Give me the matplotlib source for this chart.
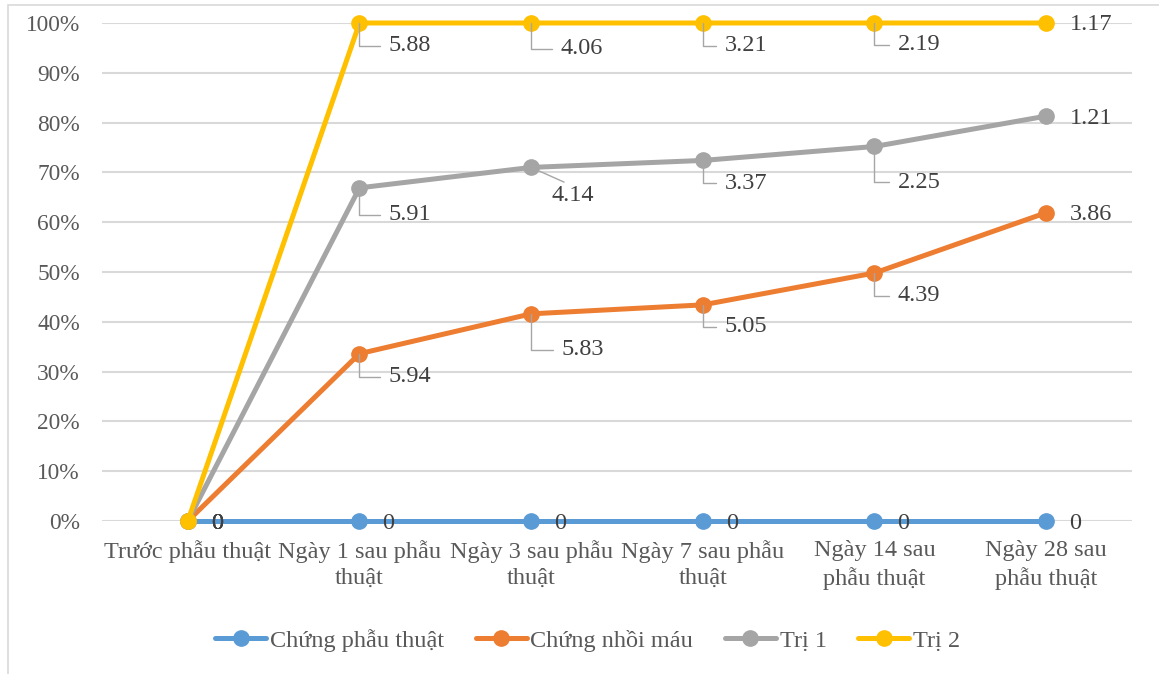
import matplotlib
matplotlib.use("Agg")
import matplotlib.pyplot as plt
from matplotlib.patches import Rectangle
from matplotlib.ticker import PercentFormatter

plt.rcParams['font.family'] = ['Liberation Serif', 'DejaVu Serif']

categories = ["Trước phẫu thuật", "Ngày 1 sau phẫu\nthuật", "Ngày 3 sau phẫu\nthuật",
              "Ngày 7 sau phẫu\nthuật", "Ngày 14 sau\nphẫu thuật", "Ngày 28 sau\nphẫu thuật"]
series_names = ["Chứng phẫu thuật", "Chứng nhồi máu", "Trị 1", "Trị 2"]
chung_phau_thuat = [0.0, 0.0, 0.0, 0.0, 0.0, 0.0]
chung_nhoi_mau = [0.0, 0.336, 0.416, 0.434, 0.498, 0.619]
tri_1 = [0.0, 0.669, 0.710, 0.724, 0.752, 0.813]
tri_2 = [0.0, 1.0, 1.0, 1.0, 1.0, 1.0]
labels_chung_phau_thuat = ["0", "0", "0", "0", "0", "0"]
labels_chung_nhoi_mau = ["0", "5.94", "5.83", "5.05", "4.39", "3.86"]
labels_tri_1 = ["0", "5.91", "4.14", "3.37", "2.25", "1.21"]
labels_tri_2 = ["0", "5.88", "4.06", "3.21", "2.19", "1.17"]

colors = ["#5B9BD5", "#ED7D31", "#A5A5A5", "#FFC000"]
all_values = [chung_phau_thuat, chung_nhoi_mau, tri_1, tri_2]
all_labels = [labels_chung_phau_thuat, labels_chung_nhoi_mau, labels_tri_1, labels_tri_2]

# label offsets in pixels (dx, dy downward) and leader style: 'L', 'diag', or None
layout = {
    0: [((23, 2), None)] * 6,
    1: [((23, 2), None), ((29, 23), 'L'), ((30, 36), 'L'), ((22, 22), 'L'), ((23, 23), 'L'), ((24, 2), None)],
    2: [((23, 2), None), ((29, 27), 'L'), ((20, 28), 'diag'), ((22, 23), 'L'), ((23, 36), 'L'), ((24, 2), None)],
    3: [((23, 2), None), ((29, 23), 'L'), ((29, 26), 'L'), ((22, 23), 'L'), ((23, 22), 'L'), ((24, 2), None)],
}

FS = 17.5
fig = plt.figure(figsize=(11.59, 6.74), dpi=100)
ax = fig.add_axes([0.088, 0.227, 0.8887, 0.7389])
x = list(range(len(categories)))

for i, (vals, name, c) in enumerate(zip(all_values, series_names, colors)):
    ax.plot(x, vals, color=c, lw=3.6, marker='o', markersize=11, label=name,
            zorder=3 + i, clip_on=False, solid_capstyle='round')

text_color = "#404040"
for i in range(4):
    for j, (v, lab) in enumerate(zip(all_values[i], all_labels[i])):
        (dx, dy), style = layout[i][j]
        kw = dict(xy=(x[j], v), xytext=(dx, -dy), textcoords='offset pixels',
                  ha='left', va='center', fontsize=FS, color=text_color, zorder=10)
        if style == 'L':
            ax.annotate(lab, **kw,
                        arrowprops=dict(arrowstyle='-', color='#A6A6A6', lw=1,
                                        connectionstyle='angle,angleA=0,angleB=90,rad=0',
                                        shrinkA=4, shrinkB=0, relpos=(0, 0.5)))
        elif style == 'diag':
            ax.annotate(lab, **kw,
                        arrowprops=dict(arrowstyle='-', color='#A6A6A6', lw=1,
                                        shrinkA=0, shrinkB=0, relpos=(0.45, 1.0)))
        else:
            ax.annotate(lab, **kw)

ax.set_xlim(-0.5, 5.5)
ax.set_ylim(0, 1.0)
ax.set_yticks([i / 10 for i in range(11)])
ax.yaxis.set_major_formatter(PercentFormatter(1.0, decimals=0))
ax.set_xticks(x)
ax.set_xticklabels(categories, fontsize=FS, color="#595959", linespacing=1.3)
ax.tick_params(axis='y', length=0, pad=16, labelsize=16.8, labelcolor="#595959")
ax.tick_params(axis='x', length=0, pad=14)
ax.grid(axis='y', color='#D9D9D9', lw=1.5, zorder=0)
ax.set_axisbelow(True)
for s in ax.spines.values():
    s.set_visible(False)

fig.legend(loc='center', bbox_to_anchor=(0.507, 0.05), ncol=4, frameon=False,
           fontsize=FS, handlelength=2.1, handletextpad=0.15, columnspacing=1.3,
           labelcolor="#595959")

fig.patches.append(Rectangle((8 / 1159, -0.01), 1.1, 1 - 5 / 674 + 0.01, transform=fig.transFigure,
                             fill=False, edgecolor='#D9D9D9', lw=1.2))

fig.savefig("out.png", dpi=100)
